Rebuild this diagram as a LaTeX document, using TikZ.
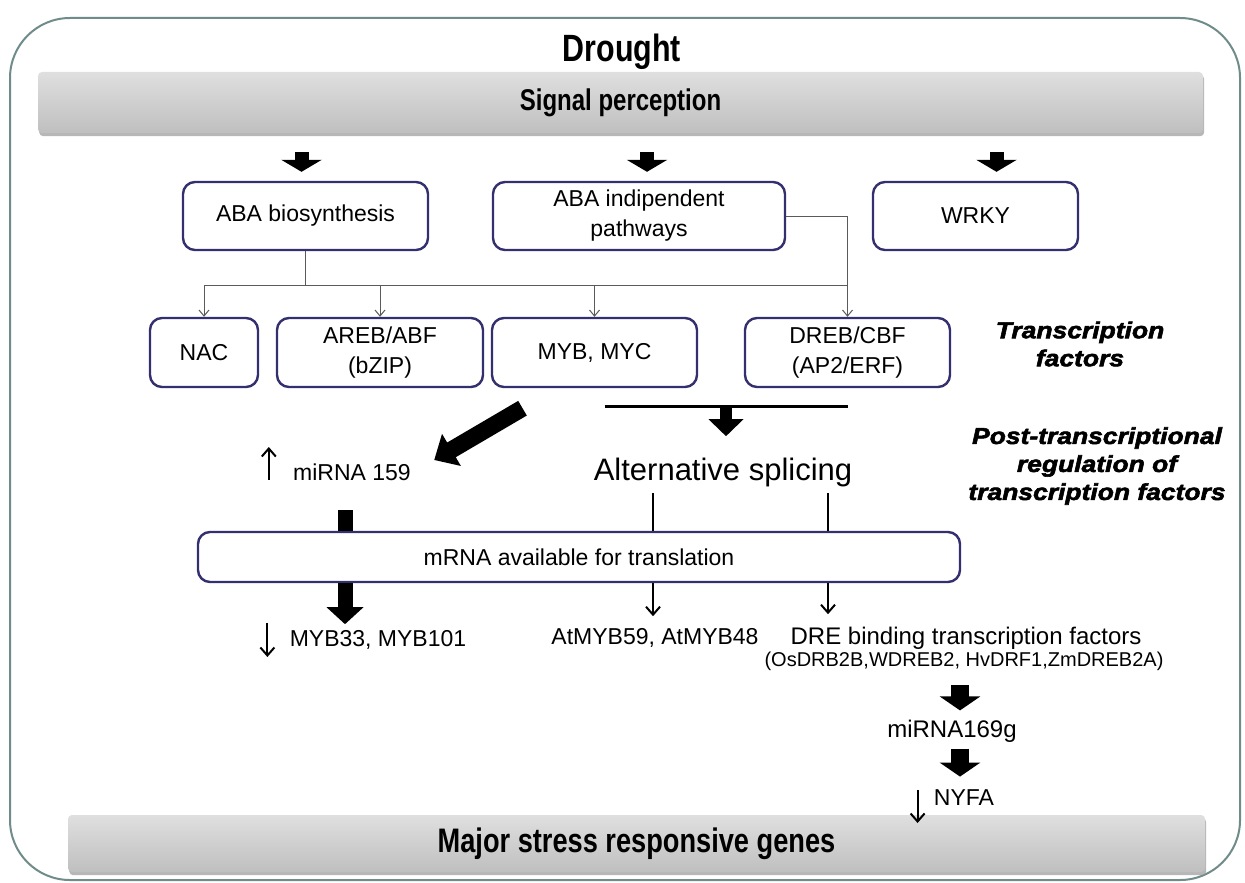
\documentclass[tikz,border=0pt]{standalone}
\usepackage{fontspec}
\setmainfont{Liberation Sans}
\newfontfamily\condfont[FakeStretch=0.8]{Liberation Sans}
\newfontfamily\heavyfont[FakeStretch=1.15,FakeBold=2.5]{Liberation Sans Bold Italic}
\usetikzlibrary{
    arrows.meta,
    calc,
    shadows
}

\definecolor{boxblue}{RGB}{52,48,112}
\definecolor{framegray}{RGB}{112,140,138}
\definecolor{connline}{RGB}{90,90,90}

\tikzset{
    pbox/.style={draw=boxblue, line width=1.2pt, rounded corners=6pt, fill=white,
        align=center, inner sep=0pt, font=\fontsize{11.5}{15}\selectfont},
    banner/.style={rounded corners=2pt, top color=gray!25, middle color=white,
        bottom color=gray!50, inner sep=0pt,
        drop shadow={shadow xshift=0.6pt, shadow yshift=-1.6pt, fill=gray!80, opacity=0.7}},
    lbl/.style={inner sep=1pt, font=\fontsize{11.5}{14}\selectfont},
    side/.style={inner sep=1pt, align=center, font=\heavyfont\fontsize{11.5}{14}\selectfont},
    thinline/.style={draw=connline, line width=0.5pt},
    thinarrow/.style={thinline, -{Straight Barb[length=3pt,width=5pt]}},
    blackarrow/.style={line width=1pt, -{Straight Barb[length=4pt,width=7pt]}},
    bigarrow/.style={line width=7pt, -{Triangle[length=6pt,width=20pt]}},
    midarrow/.style={line width=7.5pt, -{Triangle[length=8.5pt,width=18pt]}},
    diagarrow/.style={line width=8.5pt, -{Triangle[length=10pt,width=18pt]}}
}

\begin{document}
\begin{tikzpicture}[x=0.5pt,y=-0.5pt]
\useasboundingbox[fill=white] (0,0) rectangle (1245,882);

% Frame
\draw[framegray, line width=1pt, rounded corners=30pt] (10,18) rectangle (1240,880);

% Title and banners
\node[font=\condfont\bfseries\fontsize{19}{22}\selectfont] (drought) at (622,52) {Drought};
\node[banner, minimum width=582.5pt, minimum height=30.5pt,
    font=\condfont\bfseries\fontsize{15}{18}\selectfont] (signal) at (620.5,102.5) {Signal perception};
\node[banner, minimum width=568.5pt, minimum height=28.5pt,
    font=\condfont\bfseries\fontsize{17}{20}\selectfont] (major) at (636.5,843.5) {Major stress responsive genes};

% First row
\node[pbox, minimum width=122.5pt, minimum height=34pt] (abab) at (305.5,216) {ABA biosynthesis};
\node[pbox, minimum width=146pt, minimum height=34pt] (indep) at (639,216) {ABA indipendent\\pathways};
\node[pbox, minimum width=102.5pt, minimum height=34pt] (wrky) at (975.5,216) {WRKY};

\draw[bigarrow] ($(signal.south -| abab.north)+(-4,19)$) -- ($(abab.north)+(-4,-9)$);
\draw[bigarrow] ($(signal.south -| indep.north)+(8,19)$) -- ($(indep.north)+(8,-9)$);
\draw[bigarrow] ($(signal.south -| wrky.north)+(21,19)$) -- ($(wrky.north)+(21,-9)$);

% Transcription factors
\node[pbox, minimum width=54pt, minimum height=34.5pt] (nac) at (204,352.5) {NAC};
\node[pbox, minimum width=103pt, minimum height=34.5pt] (areb) at (380,352.5) {AREB/ABF\\(bZIP)};
\node[pbox, minimum width=102.5pt, minimum height=34.5pt] (myb) at (594.5,352.5) {MYB, MYC};
\node[pbox, minimum width=102.5pt, minimum height=34.5pt] (dreb) at (847.5,352.5) {DREB/CBF\\(AP2/ERF)};

\draw[thinline] (abab.south) -- ++(0,34) coordinate (split);
\draw[thinline] (nac.north |- split) -- (dreb.north |- split);
\foreach \n in {nac,areb,myb}
    \draw[thinarrow] (\n.north |- split) -- (\n.north);
\draw[thinarrow] (indep.east) -| (dreb.north);

\node[side] (tf) at (1080,344) {Transcription\\factors};
\node[side] (ptr) at (1097,466) {Post-transcriptional\\regulation of\\transcription factors};

% Post-transcriptional level
\node[lbl] (mir) at (352,472) {miRNA 159};
\draw[blackarrow] ($(mir.west)+(-22,8)$) -- ++(0,-33);
\draw[diagarrow] ($(myb.south)+(-72,20)$) -- ($(mir.east)+(21,-12)$);

\coordinate (barl) at ($(myb.south)+(10,18)$);
\coordinate (barr) at ($(dreb.south)+(0,18)$);
\draw[line width=1.5pt] (barl) -- (barr);
\node[inner sep=1pt, font=\fontsize{15.5}{18}\selectfont] (alt) at (723,472) {Alternative splicing};
\draw[line width=6pt, -{Triangle[length=8.5pt,width=17pt]}] ($(barl)!0.5!(barr)$) -- ++(0,30);

\node[pbox, minimum width=381pt, minimum height=25pt] (mrna) at (579,557) {mRNA available for translation};

\coordinate (bar) at (345,510);
\draw[line width=7.5pt] (bar) -- (bar |- mrna.north);
\coordinate (s1) at (653,493);
\coordinate (s2) at (828,493);
\draw[line width=0.9pt] (s1) -- (s1 |- mrna.north);
\draw[line width=0.9pt] (s2) -- (s2 |- mrna.north);

% Targets
\node[lbl] (myb33) at (378,640) {MYB33, MYB101};
\node[lbl] (atmyb) at (655,638) {AtMYB59, AtMYB48};
\node[lbl, font=\fontsize{12}{14}\selectfont] (dre) at (966,638) {DRE binding transcription factors};
\node[inner sep=1pt, font=\fontsize{10}{12}\selectfont] (drelist) at (964,661) {(OsDRB2B,WDREB2, HvDRF1,ZmDREB2A)};

\draw[midarrow] (bar |- mrna.south) -- ++(0,41);
\draw[blackarrow] ($(myb33.west)+(-20,-17)$) -- ++(0,34);
\draw[blackarrow] (s1 |- mrna.south) -- ++(0,33);
\draw[blackarrow] (s2 |- mrna.south) -- ++(0,31);

% DRE branch
\node[lbl, font=\fontsize{12}{14}\selectfont] (mir169) at (952,731) {miRNA169g};
\node[lbl] (nyfa) at (964,798) {NYFA};
\draw[line width=9pt, -{Triangle[length=7pt,width=20pt]}] ($(mir169.north)+(8,-32)$) -- ($(mir169.north)+(8,-7)$);
\draw[line width=9pt, -{Triangle[length=7pt,width=20pt]}] ($(mir169.south)+(8,4)$) -- ($(mir169.south)+(8,32)$);
\draw[blackarrow] ($(nyfa.west)+(-14,-8)$) -- ++(0,33);
\end{tikzpicture}
\end{document}
